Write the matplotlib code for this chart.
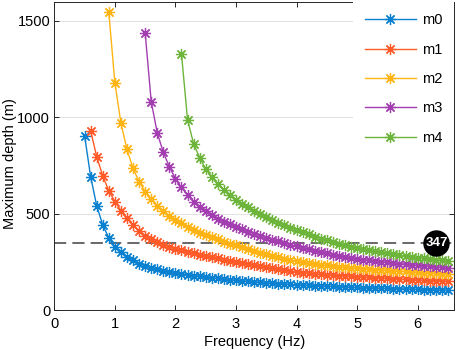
import numpy as np
import matplotlib
matplotlib.use('Agg')
import matplotlib.pyplot as plt

# --- Data ---
mode_labels = ['m0', 'm1', 'm2', 'm3', 'm4']
start_freq = [0.5, 0.6, 0.9, 1.5, 2.1]   # Hz, first sample of each mode
freq_step = 0.1                           # Hz between samples

depth_m0 = [905, 692, 541, 441, 374,
            329, 300, 276, 257, 241, 229, 219, 211, 204, 199,
            194, 189, 184, 179, 175, 171, 167, 164, 160, 157,
            154, 151, 149, 146, 144, 141, 139, 137, 135, 133,
            131, 130, 128, 127, 125, 124, 122, 121, 120, 118,
            117, 116, 115, 114, 113, 112, 111, 110, 109, 108,
            107, 106, 105, 104, 103, 102]
depth_m1 = [931, 796, 696, 619,
            563, 516, 476, 440, 410, 386, 367, 351, 338, 327,
            317, 309, 301, 294, 287, 280, 274, 268, 262, 256,
            251, 245, 239, 233, 228, 223, 218, 213, 208, 203,
            198, 194, 191, 188, 185, 183, 181, 179, 177, 175,
            173, 171, 169, 168, 166, 164, 163, 161, 159, 158,
            156, 155, 153, 152, 151, 150]
depth_m2 = [1545,
            1180, 971, 833, 736, 666, 614, 575, 542, 515, 490,
            468, 449, 432, 416, 402, 389, 377, 366, 355, 345,
            335, 325, 315, 306, 297, 289, 281, 273, 266, 259,
            252, 247, 243, 239, 235, 231, 228, 225, 222, 219,
            217, 214, 212, 210, 208, 206, 204, 202, 200, 198,
            196, 194, 192, 190, 188, 186]
depth_m3 = [1440, 1082, 919, 818, 743,
            682, 636, 597, 563, 535, 512, 492, 474, 458, 444,
            431, 419, 407, 396, 385, 375, 365, 356, 347, 339,
            331, 323, 315, 308, 301, 294, 288, 282, 276, 270,
            265, 261, 257, 253, 250, 247, 244, 241, 238, 235,
            232, 229, 226, 223, 221, 218]
depth_m4 = [1329, 988, 863, 790, 732, 688, 652, 622, 596,
            573, 552, 533, 515, 498, 482, 467, 453, 440, 427,
            415, 403, 392, 381, 371, 361, 352, 344, 336, 329,
            322, 316, 310, 304, 299, 294, 289, 284, 280, 276,
            272, 268, 265, 262, 259, 256]

threshold_depth = 347
threshold_label_freq = 6.31

x_ticks = [0, 1, 2, 3, 4, 5, 6]
y_ticks = [0, 500, 1000, 1500]

colors = ['#0a80d0', '#ff5a28', '#ffb414', '#a23eb0', '#6cb43a']


def main():
    plt.rcParams['font.family'] = ['Liberation Sans', 'DejaVu Sans']
    plt.rcParams['axes.unicode_minus'] = False

    W, H = 457, 350
    fig = plt.figure(figsize=(W / 100, H / 100), dpi=100)
    ax = fig.add_axes([54.3 / W, 1 - 310 / H, (454 - 54.3) / W, (310 - 1.7) / H])

    # MATLAB '*' marker: asterisk with 8 spokes
    star = (8, 2, 0)
    all_depths = [depth_m0, depth_m1, depth_m2, depth_m3, depth_m4]
    for label, f0, depth, c in zip(mode_labels, start_freq, all_depths, colors):
        freq = np.round(f0 + freq_step * np.arange(len(depth)), 2)
        ax.plot(freq, depth, color=c, lw=1.0, marker=star, ms=8, mew=0.9,
                label=label, zorder=3)

    # threshold line + round label
    ax.axhline(threshold_depth, color='#404040', lw=1.1, ls=(0, (8, 4)), zorder=2)
    ax.plot([threshold_label_freq], [threshold_depth], marker='o', ms=18,
            color='black', zorder=5, clip_on=False)
    ax.text(threshold_label_freq, threshold_depth, str(threshold_depth),
            color='white', fontsize=9.5, fontweight='bold',
            ha='center', va='center', zorder=6)

    ax.set_xlim(0, 6.6)
    ax.set_ylim(0, 1600)
    ax.set_xticks(x_ticks)
    ax.set_yticks(y_ticks)
    ax.yaxis.grid(True, color='#e3e3e3', lw=0.8)
    ax.set_axisbelow(True)

    for sp in ax.spines.values():
        sp.set_color('#262626')
        sp.set_linewidth(0.7)
    ax.tick_params(direction='in', length=3.5, width=0.7, top=True, right=True,
                   labelsize=10.5, colors='#262626', labelcolor='black')
    ax.tick_params(axis='y', pad=3)
    ax.tick_params(axis='x', pad=5)

    ax.set_xlabel('Frequency (Hz)', fontsize=10.5, labelpad=3)
    ax.set_ylabel('Maximum depth (m)', fontsize=10.5)
    ax.yaxis.set_label_coords(-0.094, 0.475)

    leg = ax.legend(loc='upper right', bbox_to_anchor=(1, 1), borderaxespad=0,
                    fontsize=10.5, frameon=True, fancybox=False, framealpha=1,
                    edgecolor='white', handlelength=3.5, handletextpad=0.4,
                    labelspacing=1.05, borderpad=0.8)
    leg.get_frame().set_linewidth(0)
    leg.set_zorder(7)

    fig.savefig('out.png', dpi=100)


if __name__ == '__main__':
    main()
